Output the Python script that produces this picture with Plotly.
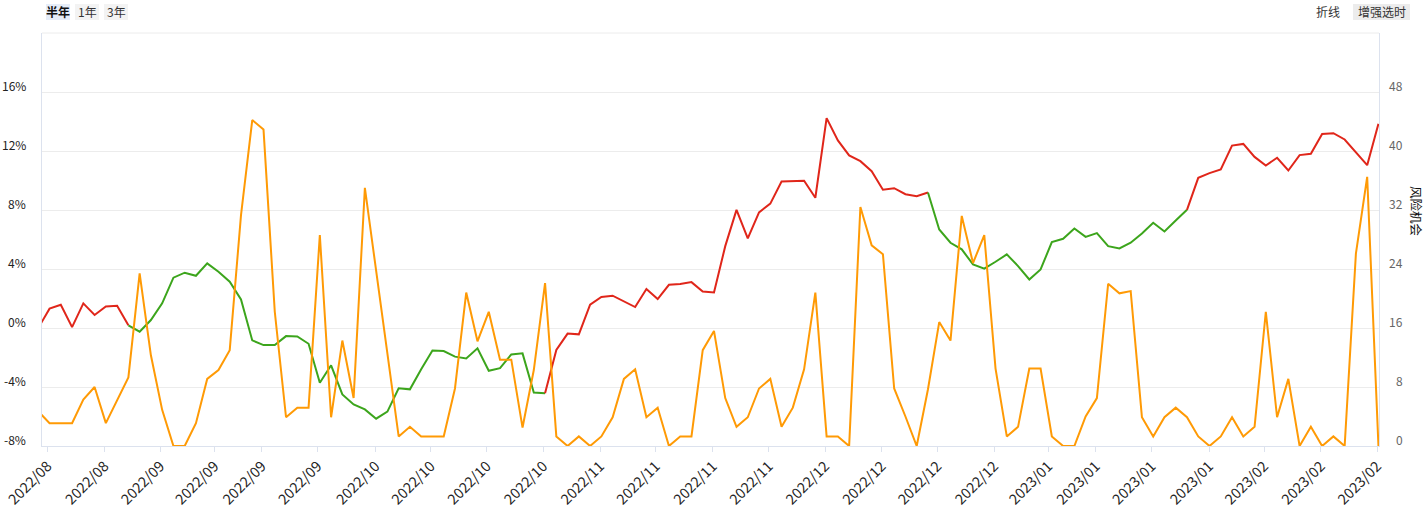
import plotly.graph_objects as go

# ---------------- data ----------------
ret_pct = [0.0, 1.31, 1.58, 0.06, 1.67, 0.88, 1.46, 1.51, 0.18, -0.25,
           0.54, 1.67, 3.41, 3.75, 3.54, 4.38, 3.81, 3.14, 1.94, -0.84,
           -1.16, -1.16, -0.55, -0.57, -1.07, -3.71, -2.53, -4.50, -5.18, -5.52,
           -6.15, -5.67, -4.09, -4.16, -2.80, -1.52, -1.56, -1.94, -2.06, -1.38,
           -2.90, -2.72, -1.79, -1.72, -4.38, -4.43, -1.49, -0.38, -0.43, 1.58,
           2.10, 2.19, 1.78, 1.42, 2.64, 1.96, 2.93, 2.98, 3.11, 2.48,
           2.41, 5.55, 8.01, 6.08, 7.84, 8.43, 9.93, 9.95, 9.98, 8.83,
           14.23, 12.72, 11.70, 11.31, 10.63, 9.37, 9.48, 9.07, 8.94, 9.19,
           6.68, 5.78, 5.33, 4.31, 4.02, 4.49, 4.99, 4.20, 3.29, 3.97,
           5.82, 6.05, 6.75, 6.18, 6.43, 5.55, 5.39, 5.78, 6.41, 7.13,
           6.54, 7.29, 8.01, 10.18, 10.50, 10.75, 12.37, 12.48, 11.60, 11.02,
           11.54, 10.68, 11.72, 11.81, 13.16, 13.21, 12.78, 11.94, 11.04, 13.84]

risk_opp = [4.7, 3.1, 3.1, 3.1, 6.3, 8.0, 3.1, 6.2, 9.3, 23.4,
            12.3, 4.9, 0, 0, 3.1, 9.1, 10.3, 13.0, 31.3, 44.2,
            42.9, 18.2, 3.9, 5.2, 5.2, 28.6, 3.9, 14.3, 6.5, 35.0,
            23.7, 12.3, 1.3, 2.6, 1.3, 1.3, 1.3, 7.8, 20.8, 14.2,
            18.2, 11.7, 11.7, 2.5, 10.3, 22.1, 1.3, 0, 1.3, 0,
            1.3, 3.9, 9.1, 10.4, 3.9, 5.2, 0, 1.3, 1.3, 13.0,
            15.6, 6.5, 2.6, 3.9, 7.8, 9.1, 2.6, 5.2, 10.4, 20.8,
            1.3, 1.3, 0, 32.4, 27.2, 26.0, 7.8, 4.0, 0, 7.7,
            16.8, 14.3, 31.2, 24.8, 28.6, 10.5, 1.3, 2.6, 10.5, 10.5,
            1.3, 0, 0, 4.0, 6.5, 22.0, 20.7, 21.0, 3.9, 1.3,
            3.9, 5.2, 3.9, 1.3, 0, 1.3, 3.9, 1.3, 2.6, 18.2,
            3.9, 9.1, 0, 2.6, 0, 1.3, 0, 26.1, 36.5, 0]

# timing regimes: (start index, state)  'up' = red, 'down' = green
regimes = [(0, "up"), (8, "down"), (45, "up"), (79, "down"), (102, "up")]

x_tick_labels = ["2022/08", "2022/08", "2022/09", "2022/09", "2022/09", "2022/09",
                 "2022/10", "2022/10", "2022/10", "2022/10", "2022/11", "2022/11",
                 "2022/11", "2022/11", "2022/12", "2022/12", "2022/12", "2022/12",
                 "2023/01", "2023/01", "2023/01", "2023/01", "2023/02", "2023/02",
                 "2023/02"]
left_tick_vals = [-8, -4, 0, 4, 8, 12, 16]
left_tick_text = ["-8%", "-4%", "0%", "4%", "8%", "12%", "16%"]
right_tick_vals = [0, 8, 16, 24, 32, 40, 48]
right_tick_text = ["0", "8", "16", "24", "32", "40", "48"]

# ---------------- styles ----------------
# axis tick positions (in point-index units)
x_tick_pos = [0.83, 5.88, 10.83, 15.65, 19.86, 24.79, 29.94, 34.86, 39.83, 44.85,
              49.88, 54.83, 59.89, 64.86, 69.86, 74.89, 79.82, 84.88, 89.68, 93.91,
              98.85, 103.97, 108.85, 113.88, 118.88]

FONT = "Noto Sans CJK SC"
RED = "#e0261a"
GREEN = "#3ca51c"
ORANGE = "#ff9a05"
AXIS_LINE = "#dce2ee"
GRID = "#ececec"

n = len(ret_pct)
x = list(range(n))

fig = go.Figure()

# orange series on right axis
fig.add_trace(go.Scatter(x=x, y=risk_opp, mode="lines", yaxis="y2",
                         line=dict(color=ORANGE, width=2), hoverinfo="skip",
                         showlegend=False))

# return line split by regime
bounds = [r[0] for r in regimes] + [n - 1]
for k, (start, state) in enumerate(regimes):
    end = bounds[k + 1]
    xs = x[start:end + 1]
    ys = ret_pct[start:end + 1]
    fig.add_trace(go.Scatter(x=xs, y=ys, mode="lines", yaxis="y",
                             line=dict(color=RED if state == "up" else GREEN, width=2),
                             hoverinfo="skip", showlegend=False))

fig.update_layout(
    width=1426, height=513,
    margin=dict(l=42, r=47, t=33, b=67, pad=0, autoexpand=False),
    paper_bgcolor="white", plot_bgcolor="white",
    font=dict(family=FONT, size=12, color="#333"),
    xaxis=dict(range=[0.33, 119.05], tickmode="array", tickvals=x_tick_pos,
               ticktext=x_tick_labels, tickangle=-45, ticks="outside", ticklen=5,
               tickcolor=AXIS_LINE, showline=True, linecolor=AXIS_LINE, linewidth=1,
               showgrid=False, zeroline=False, automargin=False,
               tickfont=dict(family=FONT, size=14.5, color="#222")),
    yaxis=dict(range=[-8, 20], tickmode="array", tickvals=left_tick_vals + [20],
               showticklabels=False, showgrid=True, gridcolor=GRID, gridwidth=1,
               showline=True, linecolor=AXIS_LINE, linewidth=1, zeroline=False,
               ticks="", automargin=False),
    yaxis2=dict(range=[0, 56], overlaying="y", side="right", showgrid=False,
                showticklabels=False, showline=True, linecolor=AXIS_LINE,
                linewidth=1, zeroline=False, ticks="", automargin=False),
)

plot_w = 1426 - 42 - 47


def px_x(px):
    return (px - 42) / plot_w


def px_y(py):
    return (446 - py) / (446 - 33)


annotations = []
# left tick labels
for v, t in zip(left_tick_vals, left_tick_text):
    annotations.append(dict(x=0, xref="paper", y=v, yref="y", text=t, showarrow=False,
                            xanchor="right", yanchor="middle", xshift=-14, yshift=6.5,
                            font=dict(family=FONT, size=12, color="#222")))
# right tick labels
for v, t in zip(right_tick_vals, right_tick_text):
    annotations.append(dict(x=1, xref="paper", y=v, yref="y2", text=t, showarrow=False,
                            xanchor="right", yanchor="middle", xshift=26, yshift=6.5,
                            font=dict(family=FONT, size=12, color="#666")))
# right axis title
annotations.append(dict(xref="paper", x=px_x(1416), yref="paper", y=px_y(211),
                        text="风险机会", showarrow=False, textangle=90,
                        xanchor="center", yanchor="middle",
                        font=dict(family=FONT, size=12.5, color="#111")))
fig.update_layout(annotations=annotations)

# top border gridline
fig.add_shape(type="line", xref="paper", yref="paper", x0=0, x1=1, y0=1, y1=1,
              line=dict(color=GRID, width=1))

# buttons (top left / top right)
buttons = [("半年", 46, 70, "#e6edf8", True), ("1年", 75, 99, "#f3f3f3", False),
           ("3年", 104, 128, "#f3f3f3", False), ("增强选时", 1353, 1410, "#ececec", False)]
for text, x0, x1, bg, bold in buttons:
    fig.add_shape(type="rect", xref="paper", yref="paper",
                  x0=px_x(x0), x1=px_x(x1), y0=px_y(20), y1=px_y(4),
                  fillcolor=bg, line=dict(width=0), layer="below")
    fig.add_annotation(xref="paper", yref="paper", x=px_x((x0 + x1) / 2), y=px_y(12),
                       text=f"<b>{text}</b>" if bold else text, showarrow=False,
                       xanchor="center", yanchor="middle",
                       font=dict(family=FONT, size=12, color="#111" if bold else "#333"))
fig.add_annotation(xref="paper", yref="paper", x=px_x(1328), y=px_y(12), text="折线",
                   showarrow=False, xanchor="center", yanchor="middle",
                   font=dict(family=FONT, size=12, color="#333"))

fig.write_html("out.html")
